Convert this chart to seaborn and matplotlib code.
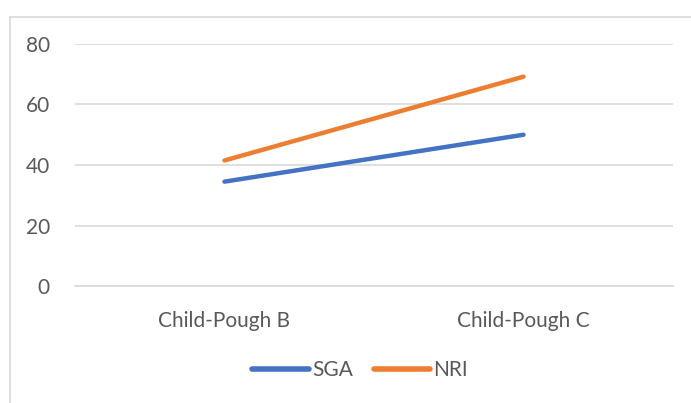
import pandas as pd
import seaborn as sns
import matplotlib.pyplot as plt
from matplotlib.patches import Rectangle

# datos
categorias = ["Child-Pough B", "Child-Pough C"]
sga = [34.5, 50.0]
nri = [41.5, 69.2]
series = ["SGA", "NRI"]
colores = ["#4472C4", "#ED7D31"]

df = pd.DataFrame({
    "categoria": categorias * 2,
    "valor": sga + nri,
    "serie": [series[0]] * 2 + [series[1]] * 2,
})

sns.set_style("white")
plt.rcParams["font.family"] = ["Lato", "DejaVu Sans"]

fig = plt.figure(figsize=(6.91, 4.03), dpi=100)
ax = fig.add_axes([75 / 691, 1 - 286 / 403, 598 / 691, 242 / 403])

sns.lineplot(data=df, x="categoria", y="valor", hue="serie", palette=colores,
             sort=False, linewidth=3.2, ax=ax, legend=True)
for ln in ax.lines:
    ln.set_solid_capstyle("round")

ax.set_xlim(-0.5, 1.5)
ax.set_ylim(0, 80)
ax.set_yticks([0, 20, 40, 60, 80])
ax.yaxis.grid(True, color="#D9D9D9", linewidth=1.2)
ax.set_axisbelow(True)
for s in ["top", "right", "left"]:
    ax.spines[s].set_visible(False)
ax.spines["bottom"].set_color("#D9D9D9")
ax.spines["bottom"].set_linewidth(1.2)
ax.tick_params(axis="both", length=0, labelsize=15, colors="#595959")
ax.tick_params(axis="y", pad=18)
ax.tick_params(axis="x", pad=18)
ax.set_xlabel("")
ax.set_ylabel("")

handles, labels = ax.get_legend_handles_labels()
ax.get_legend().remove()
leg = fig.legend(handles, labels, loc="center", bbox_to_anchor=(360 / 691, 1 - 370 / 403),
                 ncol=2, frameon=False, fontsize=15, handlelength=2.7,
                 columnspacing=1.0, handletextpad=0.15)
for t in leg.get_texts():
    t.set_color("#595959")
for h in leg.legend_handles:
    h.set_linewidth(4)
    h.set_solid_capstyle("round")

# borde del área del gráfico
fig.patches.append(Rectangle((10 / 691, -0.1), 1.0, 1 - 17 / 403 + 0.1,
                             transform=fig.transFigure, fill=False,
                             edgecolor="#D9D9D9", linewidth=1.2))

fig.savefig("out.png", dpi=100)
